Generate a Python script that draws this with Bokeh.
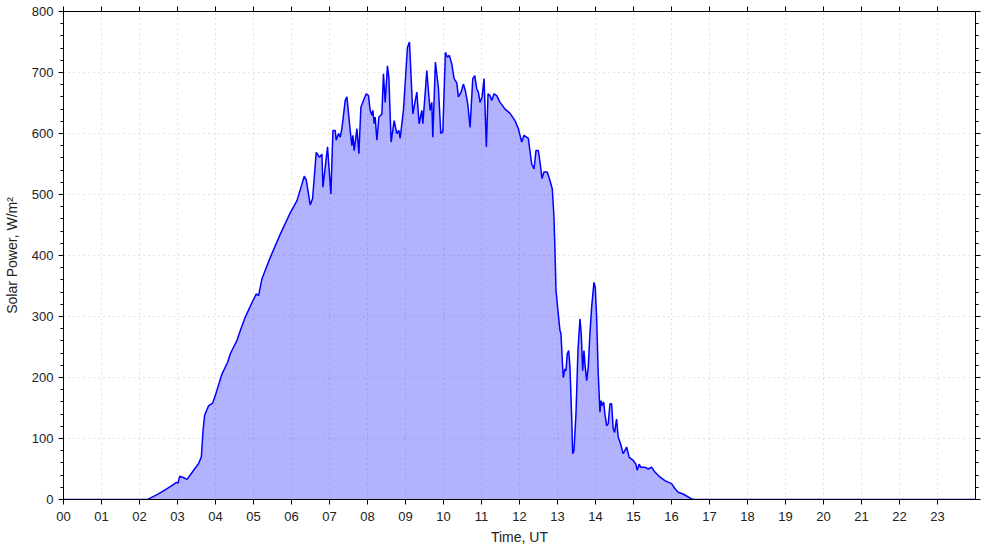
from bokeh.plotting import figure
from bokeh.models import FixedTicker, LinearAxis, Range1d
from bokeh.embed import file_html
from bokeh.resources import INLINE

# Time of day (hours, UT)
time_ut = [0, 2.20, 2.242, 2.332, 2.463, 2.595, 2.726, 2.858, 2.971, 3.015, 3.057, 3.15, 3.252, 3.425,
           3.557, 3.628, 3.672, 3.714, 3.820, 3.925, 4.022, 4.172, 4.319, 4.39, 4.477, 4.566, 4.653,
           4.784, 4.961, 5.074, 5.134, 5.223, 5.442, 5.705, 5.967, 6.144, 6.275, 6.335, 6.388, 6.493,
           6.554, 6.651, 6.738, 6.801, 6.827, 6.948, 7.037, 7.090, 7.150, 7.177, 7.237, 7.282, 7.326,
           7.413, 7.458, 7.545, 7.589, 7.616, 7.650, 7.721, 7.773, 7.826, 7.894, 7.965, 8.026, 8.070,
           8.115, 8.141, 8.176, 8.202, 8.247, 8.299, 8.378, 8.420, 8.465, 8.525, 8.562, 8.622, 8.701,
           8.772, 8.825, 8.859, 8.946, 9.051, 9.104, 9.193, 9.298, 9.359, 9.430, 9.456, 9.516, 9.561,
           9.603, 9.648, 9.692, 9.719, 9.787, 9.866, 9.929, 9.982, 10.050, 10.103, 10.155, 10.218,
           10.279, 10.350, 10.392, 10.463, 10.523, 10.576, 10.639, 10.699, 10.770, 10.823, 10.875,
           10.917, 10.962, 11.015, 11.067, 11.128, 11.172, 11.225, 11.270, 11.330, 11.401, 11.488,
           11.619, 11.751, 11.882, 11.969, 12.058, 12.119, 12.232, 12.321, 12.382, 12.434, 12.495,
           12.539, 12.592, 12.644, 12.731, 12.802, 12.863, 12.907, 12.934, 12.960, 13.021, 13.065,
           13.091, 13.126, 13.152, 13.197, 13.223, 13.257, 13.294, 13.328, 13.373, 13.399, 13.433,
           13.486, 13.538, 13.591, 13.625, 13.662, 13.696, 13.730, 13.767, 13.809, 13.854, 13.898,
           13.959, 13.993, 14.030, 14.072, 14.117, 14.143, 14.177, 14.214, 14.248, 14.293, 14.335,
           14.380, 14.424, 14.466, 14.503, 14.555, 14.598, 14.661, 14.729, 14.819, 14.887, 14.992,
           15.063, 15.097, 15.150, 15.187, 15.300, 15.387, 15.476, 15.563, 15.694, 15.826, 16.002,
           16.088, 16.175, 16.306, 16.527, 16.6, 24]

# Solar power (W/m^2)
solar_power = [0, 0, 1, 4, 8, 13, 18, 23, 28, 27, 38, 36, 33, 48,
               59, 70, 113, 138, 154, 158, 176, 206, 225, 239, 250, 261, 277,
               299, 323, 337, 334, 362, 397, 435, 470, 490, 517, 530, 524, 483,
               493, 569, 561, 566, 512, 578, 501, 605, 605, 589, 600, 594, 608,
               654, 660, 605, 580, 597, 572, 608, 567, 643, 654, 665, 662, 638,
               630, 638, 616, 627, 589, 627, 632, 698, 651, 711, 692, 586, 621,
               600, 605, 592, 638, 741, 750, 632, 668, 616, 638, 616, 665, 703,
               670, 638, 651, 594, 717, 675, 600, 603, 733, 725, 728, 714,
               690, 683, 660, 668, 681, 670, 648, 610, 690, 695, 673,
               668, 651, 660, 690, 578, 665, 662, 654, 665, 662, 651,
               640, 633, 621, 608, 586, 597, 592, 550, 542, 572, 572,
               553, 526, 537, 537, 523, 509, 463, 408, 343, 304, 277,
               272, 228, 200, 214, 211, 239, 244, 217, 135, 75, 80,
               140, 244, 296, 272, 211, 244, 217, 195, 217, 272, 315,
               356, 348, 299, 206, 143, 162, 154, 160, 140, 121, 124,
               157, 157, 116, 110, 132, 102, 91, 75, 86, 69, 64,
               58, 48, 58, 53, 53, 50, 53, 45, 37, 31, 26,
               18, 12, 9, 1, 0, 0]

hour_ticks = list(range(0, 24))
hour_labels = ["00", "01", "02", "03", "04", "05", "06", "07", "08", "09", "10", "11",
               "12", "13", "14", "15", "16", "17", "18", "19", "20", "21", "22", "23"]
power_ticks = [0, 100, 200, 300, 400, 500, 600, 700, 800]
power_minor = list(range(0, 801, 20))

FONT = "Liberation Sans"

p = figure(width=985, height=547, output_backend="svg", toolbar_location=None,
           x_range=Range1d(0, 24), y_range=Range1d(0, 800),
           min_border_left=63, min_border_top=11, min_border_right=10, min_border_bottom=48,
           x_axis_label="Time, UT", y_axis_label="Solar Power, W/m\u00b2")

p.varea(x=time_ut, y1=0, y2=solar_power, fill_color="#0000ff", fill_alpha=0.3)
p.line(time_ut, solar_power, line_color="#0000ff", line_width=1.5)

p.outline_line_color = "black"
p.outline_line_width = 1

def style_common(ax):
    ax.axis_line_color = "black"
    ax.major_tick_line_color = "black"
    ax.minor_tick_line_color = "black"
    ax.major_tick_in = 0
    ax.major_tick_out = 5
    ax.minor_tick_in = 0
    ax.minor_tick_out = 3
    ax.major_label_text_font = FONT
    ax.major_label_text_font_size = "13px"
    ax.major_label_text_color = "#222222"
    ax.axis_label_text_font = FONT
    ax.axis_label_text_font_size = "14px"
    ax.axis_label_text_font_style = "normal"
    ax.axis_label_text_color = "#222222"

xa = p.xaxis[0]
style_common(xa)
xa.ticker = FixedTicker(ticks=hour_ticks)
xa.major_label_overrides = {h: lab for h, lab in zip(hour_ticks, hour_labels)}
xa.minor_tick_line_color = None
xa.major_label_standoff = 7
xa.axis_label_standoff = 5

ya = p.yaxis[0]
style_common(ya)
ya.ticker = FixedTicker(ticks=power_ticks, minor_ticks=power_minor)
ya.major_label_standoff = 5
ya.axis_label_standoff = 9

top = LinearAxis(ticker=FixedTicker(ticks=hour_ticks))
style_common(top)
top.minor_tick_line_color = None
top.major_label_text_font_size = "0px"
top.major_label_standoff = 0
top.major_label_overrides = {h: "" for h in hour_ticks}
p.add_layout(top, "above")

right = LinearAxis(ticker=FixedTicker(ticks=power_ticks, minor_ticks=power_minor))
style_common(right)
right.major_label_text_font_size = "0px"
right.major_label_standoff = 0
right.major_label_overrides = {v: "" for v in power_ticks}
p.add_layout(right, "right")

for g in (p.xgrid[0], p.ygrid[0]):
    g.grid_line_color = "#c8c8c8"
    g.grid_line_dash = "1 4"
    g.grid_line_width = 1
p.xgrid[0].ticker = FixedTicker(ticks=hour_ticks)
p.ygrid[0].ticker = FixedTicker(ticks=power_ticks)

open("out.html", "w").write(file_html(p, INLINE))
